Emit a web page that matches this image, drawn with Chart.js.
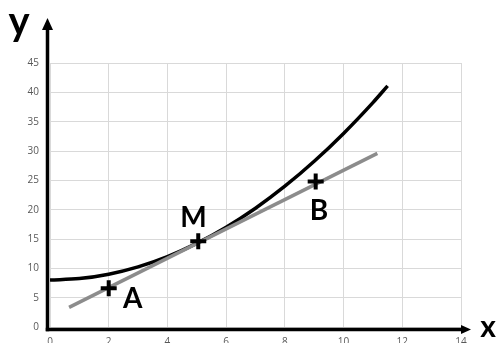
<!DOCTYPE html>
<html>
<head>
<meta charset="utf-8">
<script src="https://cdn.jsdelivr.net/npm/chart.js@4/dist/chart.umd.min.js"></script>
<style>
html,body{margin:0;padding:0;background:#fff;}
canvas{display:block;}
</style>
</head>
<body>
<canvas id="c" width="499" height="344"></canvas>
<script>
// ---- data ----
const curveX = [0, 1, 2, 3, 4, 5, 6, 7, 8, 9, 10, 11, 11.5];
const curveY = [8, 8.25, 9, 10.25, 12, 14.25, 17, 20.25, 24, 28.25, 33, 38.25, 41.1];
const tangentX = [0.65, 11.15];
const tangentY = [3.35, 29.6];
const pointNames = ['A', 'M', 'B'];
const pointX = [2.0, 5.05, 9.05];
const pointY = [6.6, 14.6, 24.8];
const nameX = [2.82, 4.89, 9.16];
const nameY = [3.2, 17.0, 18.2];
const xTickValues = [0, 2, 4, 6, 8, 10, 12, 14];
const yTickValues = [0, 5, 10, 15, 20, 25, 30, 35, 40, 45];

const toXY = (xs, ys) => xs.map((x, i) => ({x: x, y: ys[i]}));

const overlay = {
  id: 'overlay',
  afterDatasetsDraw(chart) {
    const ctx = chart.ctx, ca = chart.chartArea;
    const xs = chart.scales.x, ys = chart.scales.y;
    ctx.save();
    ctx.strokeStyle = '#000';
    ctx.fillStyle = '#000';
    ctx.lineWidth = 3.5;
    ctx.lineCap = 'butt';
    const vx = ca.left - 2.5, hy = ca.bottom + 2.5;
    // vertical axis
    ctx.beginPath();
    ctx.moveTo(vx, hy + 1.75);
    ctx.lineTo(vx, 29);
    ctx.stroke();
    ctx.beginPath();
    ctx.moveTo(vx, 18);
    ctx.lineTo(vx - 5.5, 30);
    ctx.lineTo(vx + 5.5, 30);
    ctx.closePath();
    ctx.fill();
    // horizontal axis
    ctx.beginPath();
    ctx.moveTo(vx - 1.75, hy);
    ctx.lineTo(463, hy);
    ctx.stroke();
    ctx.beginPath();
    ctx.moveTo(471, hy);
    ctx.lineTo(461, hy - 4.5);
    ctx.lineTo(461, hy + 4.5);
    ctx.closePath();
    ctx.fill();
    // axis letters
    ctx.textAlign = 'center';
    ctx.textBaseline = 'alphabetic';
    ctx.font = 'bold 40px Lato';
    ctx.fillText('y', 19, 34.5);
    ctx.font = 'bold 30px Lato';
    ctx.fillText('x', 488, 337);
    // point names
    ctx.font = 'bold 28px Lato';
    pointNames.forEach((n, i) => {
      ctx.fillText(n, xs.getPixelForValue(nameX[i]), ys.getPixelForValue(nameY[i]));
    });
    ctx.restore();
  }
};

new Chart(document.getElementById('c'), {
  type: 'scatter',
  data: {
    datasets: [
      {
        label: 'points',
        data: toXY(pointX, pointY),
        pointStyle: 'cross',
        pointRadius: 8,
        pointBorderWidth: 4,
        borderColor: '#000',
        backgroundColor: '#000',
        showLine: false,
        order: 0
      },
      {
        label: 'tangent',
        data: toXY(tangentX, tangentY),
        showLine: true,
        borderColor: '#8c8c8c',
        borderWidth: 3.5,
        pointRadius: 0,
        order: 1
      },
      {
        label: 'curve',
        data: toXY(curveX, curveY),
        showLine: true,
        borderColor: '#000',
        borderWidth: 3.5,
        pointRadius: 0,
        cubicInterpolationMode: 'monotone',
        order: 2
      }
    ]
  },
  options: {
    responsive: false,
    animation: false,
    events: [],
    layout: {padding: {top: 63, right: 38, left: 0, bottom: 0}},
    plugins: {legend: {display: false}, tooltip: {enabled: false}},
    scales: {
      x: {
        type: 'linear',
        min: 0, max: 14,
        afterFit(s) { s.height = 16; },
        afterBuildTicks(s) { s.ticks = xTickValues.map(v => ({value: v})); },
        grid: {color: '#d9d9d9', lineWidth: 1, drawTicks: false},
        border: {display: false},
        ticks: {padding: 9, color: '#595959', font: {family: 'Open Sans', size: 10}, maxRotation: 0}
      },
      y: {
        type: 'linear',
        min: 0, max: 45,
        afterFit(s) { s.width = 50; },
        afterBuildTicks(s) { s.ticks = yTickValues.map(v => ({value: v})); },
        grid: {color: '#d9d9d9', lineWidth: 1, drawTicks: false},
        border: {display: false},
        ticks: {padding: 11, color: '#595959', font: {family: 'Open Sans', size: 10}}
      }
    }
  },
  plugins: [overlay]
});
</script>
</body>
</html>
